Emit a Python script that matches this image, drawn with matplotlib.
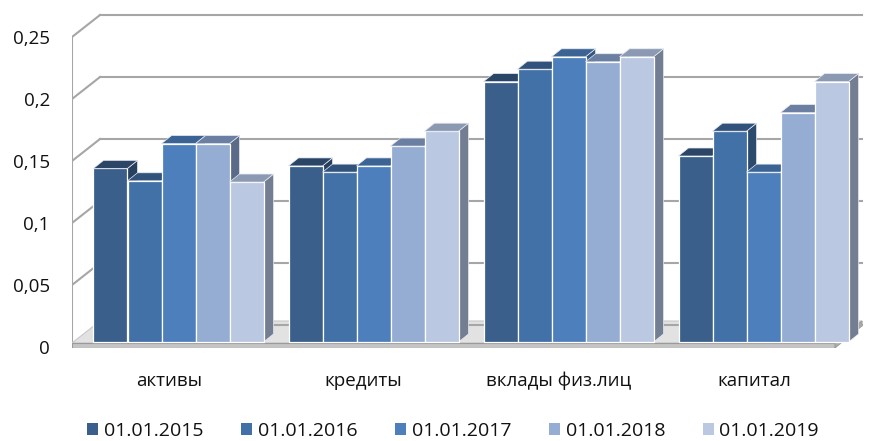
import matplotlib
matplotlib.use("Agg")
import matplotlib.pyplot as plt
from matplotlib.patches import Polygon, Rectangle

plt.rcParams['font.family'] = ['Open Sans', 'DejaVu Sans']

categories = ["активы", "кредиты", "вклады физ.лиц", "капитал"]
series = ["01.01.2015", "01.01.2016", "01.01.2017", "01.01.2018", "01.01.2019"]
v2015 = [0.14, 0.142, 0.21, 0.15]
v2016 = [0.13, 0.137, 0.22, 0.17]
v2017 = [0.16, 0.142, 0.23, 0.137]
v2018 = [0.16, 0.158, 0.226, 0.185]
v2019 = [0.129, 0.17, 0.23, 0.21]
values = [v2015, v2016, v2017, v2018, v2019]
yticks = [0, 0.05, 0.1, 0.15, 0.2, 0.25]

front_col = ["#3a5f8b", "#4271a7", "#4e7fbd", "#95acd3", "#bac8e1"]
top_col = ["#2a4566", "#30527b", "#3b6393", "#6b7fa2", "#8b99b3"]
side_col = ["#27405e", "#2c4a6e", "#35577f", "#5b6a86", "#737e93"]

# pixel -> data helpers (1 category = 195 px, 0.05 = 62 px)
PX_U = 195.0
PX_V = 1240.0
u_lf = (72 - 178.5) / PX_U      # left front edge
u_lb = (100 - 178.5) / PX_U     # left back edge
u_rf = (835 - 178.5) / PX_U
u_rb = (862 - 178.5) / PX_U
D = 22 / PX_V                   # wall depth in value units

fig = plt.figure(figsize=(8.69, 4.41), dpi=100)
ax = fig.add_axes([72 / 869, 93 / 441, 797 / 869, 338 / 441])
ax.set_xlim(u_lf, u_lf + 797 / PX_U)
ax.set_ylim(-1 / PX_V, -1 / PX_V + 338 / PX_V)
for s in ax.spines.values():
    s.set_visible(False)
ax.set_xticks([])
ax.set_yticks(yticks)
ax.set_yticklabels([("%g" % t).replace(".", ",") for t in yticks])
ax.tick_params(axis="y", length=0, pad=16, labelsize=13.5, labelcolor="#111111")

grid = "#a6a6a6"
# walls
ax.plot([u_lf, u_lf], [0, 0.25], color=grid, lw=1.5, zorder=1)
for t in yticks:
    ax.plot([u_lf, u_lb], [t, t + D], color=grid, lw=1.5, zorder=1)
    ax.plot([u_lb, u_rb], [t + D, t + D], color=grid, lw=1.5, zorder=2.5 if t == 0 else 1)

# floor slab
fb, ft = -0.8 / PX_V, 4 / PX_V
ax.add_patch(Polygon([(u_lf, ft), (u_rf, ft), (u_rb, ft + D), (u_lb, ft + D)],
                     closed=True, facecolor="#e2e2e2", edgecolor="#c8c8c8", lw=0.8, zorder=2))
ax.add_patch(Polygon([(u_lf, fb), (u_rf, fb), (u_rf, ft), (u_lf, ft)],
                     closed=True, facecolor="#c4c4c4", edgecolor="#9a9a9a", lw=0.8, zorder=2))
ax.add_patch(Polygon([(u_rf, fb), (u_rf, ft), (u_rb, ft + D), (u_rb, fb + D)],
                     closed=True, facecolor="#b0b0b0", edgecolor="#9a9a9a", lw=0.8, zorder=2))

# 3d bars
w = 34 / PX_U
ddx, ddy = 10 / PX_U, 8 / PX_V
base = 5 / PX_V
z = 3
for i in range(len(categories)):
    for j in range(len(series)):
        x0 = i + (j - 2.5) * w
        x1 = x0 + w
        top = base + values[j][i]
        ax.bar(x0, values[j][i], width=w, bottom=base, align="edge",
               color=front_col[j], edgecolor="white", lw=0.9, zorder=z + 1)
        ax.add_patch(Polygon([(x1, base), (x1, top), (x1 + ddx, top + ddy), (x1 + ddx, base + ddy)],
                             closed=True, facecolor=side_col[j], edgecolor="#e6e9ef", lw=0.5, zorder=z))
        ax.add_patch(Polygon([(x0, top), (x1, top), (x1 + ddx, top + ddy), (x0 + ddx, top + ddy)],
                             closed=True, facecolor=top_col[j], edgecolor="#e6e9ef", lw=0.5, zorder=z + 1))
        z += 2

for i, c in enumerate(categories):
    ax.text(i - 0.05, -34 / PX_V, c, ha="center", va="center", fontsize=13.5,
            color="#111111", clip_on=False)

handles = [Rectangle((0, 0), 1, 1, facecolor=front_col[j]) for j in range(len(series))]
fig.legend(handles, series, loc="center", bbox_to_anchor=(453 / 869, 10 / 441), ncol=5,
           frameon=False, fontsize=14, handlelength=0.55, handleheight=0.55,
           handletextpad=0.3, columnspacing=1.95, labelcolor="#111111")

fig.savefig("out.png", dpi=100)
